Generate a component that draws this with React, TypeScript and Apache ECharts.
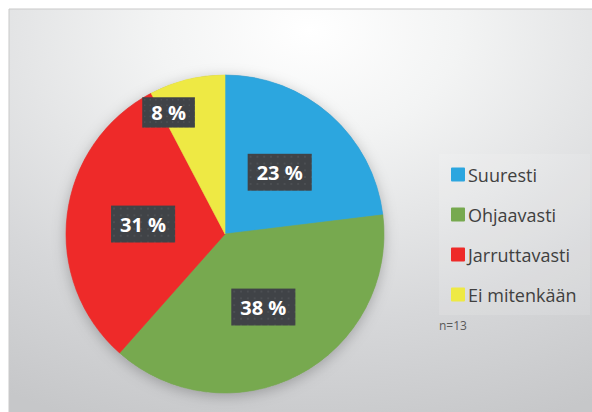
import React, { useEffect, useRef } from "react";
import * as echarts from "echarts";

const categories = ["Suuresti", "Ohjaavasti", "Jarruttavasti", "Ei mitenkään"];
const counts = [3, 5, 4, 1];
const colors = ["#2ca6df", "#77a94f", "#ee2a29", "#eee944"];
const outerLabelIndex = [3];
const noteText = "n=13";

function makeBoxImage(): string {
  const c = document.createElement("canvas");
  c.width = 66;
  c.height = 38;
  const ctx = c.getContext("2d");
  if (!ctx) return "";
  ctx.fillStyle = "#404347";
  ctx.fillRect(0, 0, c.width, c.height);
  ctx.fillStyle = "#4c4f53";
  for (let y = 2; y < c.height; y += 7) {
    for (let x = 2; x < c.width; x += 7) {
      ctx.fillRect(x, y, 2, 2);
    }
  }
  return c.toDataURL();
}

export default function App() {
  const ref = useRef<HTMLDivElement>(null);
  useEffect(() => {
    if (!ref.current) return;
    const chart = echarts.init(ref.current, undefined, { renderer: "svg" });
    const boxImg = makeBoxImage();
    const labelStyle = {
      position: "inside",
      fontFamily: "Open Sans",
      fontWeight: "bold",
      fontSize: 20,
      color: "#ffffff",
      lineHeight: 24,
      padding: [9, 9, 8, 9],
      backgroundColor: boxImg ? { image: boxImg } : "#404347",
      shadowBlur: 4,
      shadowOffsetX: 2,
      shadowOffsetY: 2,
      shadowColor: "rgba(0,0,0,0.45)",
      formatter: (p: any) => `${p.percent} %`,
    };
    chart.setOption({
      animation: false,
      backgroundColor: "#ffffff",
      graphic: [
        {
          type: "rect",
          z: -10,
          silent: true,
          shape: { x: 9, y: 9, width: 600, height: 420 },
          style: {
            fill: {
              type: "radial",
              x: 0.5,
              y: 0.05,
              r: 1.0,
              colorStops: [
                { offset: 0, color: "#ffffff" },
                { offset: 0.25, color: "#f3f4f4" },
                { offset: 0.7, color: "#d6d7d9" },
                { offset: 1, color: "#c6c7c9" },
              ],
            },
            stroke: "#c9c9c9",
            lineWidth: 1,
          },
        },
        {
          type: "rect",
          z: -9,
          silent: true,
          shape: { x: 439, y: 154, width: 151, height: 161 },
          style: { fill: "rgba(255,255,255,0.12)" },
        },
        {
          type: "text",
          x: 439,
          y: 319,
          silent: true,
          style: {
            text: noteText,
            fontFamily: "Open Sans",
            fontSize: 12,
            fill: "#595959",
          },
        },
      ],
      legend: {
        orient: "vertical",
        left: 439,
        top: 154,
        padding: [10, 14, 12, 12],
        itemWidth: 12,
        itemHeight: 12,
        itemGap: 19,
        icon: "rect",
        data: categories,
        textStyle: {
          fontFamily: "Open Sans",
          fontSize: 18,
          color: "#404040",
          lineHeight: 21,
          padding: [0, 0, 0, -1],
        },
      },
      series: [
        {
          type: "pie",
          center: [225, 234],
          radius: [0, 159],
          startAngle: 90,
          clockwise: true,
          percentPrecision: 0,
          silent: true,
          z: 1,
          label: { show: false },
          itemStyle: { borderWidth: 0, shadowBlur: 14, shadowColor: "rgba(0,0,0,0.25)", shadowOffsetY: 3 },
          data: [{ name: "shadow", value: 1, itemStyle: { color: "#9a9b9d" } }],
          legendHoverLink: false,
        },
        {
          type: "pie",
          center: [225, 234],
          radius: [0, 159],
          startAngle: 90,
          clockwise: true,
          percentPrecision: 0,
          z: 2,
          label: labelStyle,
          labelLine: { show: false },
          data: categories.map((c, i) => ({
            name: c,
            value: counts[i],
            itemStyle: { color: colors[i], borderColor: colors[i], borderWidth: 0.6 },
            label: { show: !outerLabelIndex.includes(i) },
          })),
        },
        {
          type: "pie",
          center: [225, 234],
          radius: [106, 159],
          startAngle: 90,
          clockwise: true,
          percentPrecision: 0,
          silent: true,
          z: 3,
          label: labelStyle,
          labelLine: { show: false },
          labelLayout: (p: any) => (outerLabelIndex.includes(p.dataIndex) ? { dx: -24, dy: 10 } : {}),
          itemStyle: { color: "rgba(0,0,0,0)", borderWidth: 0, borderColor: "transparent" },
          data: categories.map((c, i) => ({
            name: c + " (label)",
            value: counts[i],
            label: { show: outerLabelIndex.includes(i) },
          })),
        },
      ],
    });
    return () => chart.dispose();
  }, []);
  return (
    <div
      ref={ref}
      style={{ position: "absolute", left: 0, top: 0, width: 592, height: 412 }}
    />
  );
}
